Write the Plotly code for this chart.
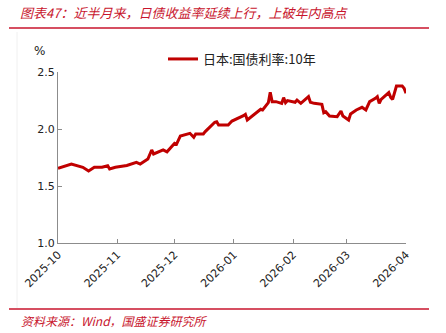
import plotly.graph_objects as go

dates = ["2025-10-01","2025-10-03","2025-10-08","2025-10-14","2025-10-17","2025-10-20","2025-10-24",
         "2025-10-27","2025-10-28","2025-10-31","2025-11-06","2025-11-11","2025-11-13","2025-11-17",
         "2025-11-19","2025-11-20","2025-11-25","2025-11-27","2025-12-01","2025-12-02","2025-12-04",
         "2025-12-09","2025-12-11","2025-12-12","2025-12-16","2025-12-17","2025-12-22","2025-12-23",
         "2025-12-24","2025-12-29","2025-12-31","2026-01-06","2026-01-07","2026-01-08","2026-01-12",
         "2026-01-15","2026-01-16","2026-01-19","2026-01-20","2026-01-21","2026-01-23","2026-01-26",
         "2026-01-27","2026-01-28","2026-01-29","2026-02-02","2026-02-03","2026-02-05","2026-02-09",
         "2026-02-10","2026-02-12","2026-02-16","2026-02-17","2026-02-18","2026-02-20","2026-02-24",
         "2026-02-26","2026-02-27","2026-03-02","2026-03-03","2026-03-06","2026-03-09","2026-03-11",
         "2026-03-13","2026-03-16","2026-03-17","2026-03-18","2026-03-19","2026-03-23","2026-03-24",
         "2026-03-25","2026-03-27","2026-03-30","2026-03-31","2026-04-01"]
jgb10y = [1.655,1.664,1.693,1.664,1.632,1.664,1.664,
          1.678,1.649,1.664,1.680,1.708,1.693,1.737,
          1.816,1.781,1.816,1.800,1.874,1.868,1.939,
          1.962,1.927,1.956,1.956,1.977,2.059,2.064,
          2.035,2.035,2.070,2.117,2.129,2.079,2.129,
          2.173,2.167,2.231,2.322,2.240,2.240,2.225,
          2.275,2.231,2.249,2.234,2.254,2.225,2.284,
          2.234,2.225,2.216,2.143,2.152,2.114,2.108,
          2.158,2.114,2.079,2.132,2.167,2.190,2.167,
          2.240,2.269,2.284,2.225,2.260,2.319,2.278,
          2.260,2.377,2.377,2.357,2.313]

series_name = "日本:国债利率:10年"
tick_vals = ["2025-10-01","2025-11-01","2025-12-01","2026-01-01","2026-02-01","2026-03-01","2026-04-01"]
tick_text = ["2025-10","2025-11","2025-12","2026-01","2026-02","2026-03","2026-04"]
y_ticks = [1.0, 1.5, 2.0, 2.5]

W, H = 446, 333
ML, MR, MT, MB = 58, 40, 72, 90
PW, PH = W - ML - MR, H - MT - MB

def px(x):
    return (x - ML) / PW

def py(y):
    return (H - MB - y) / PH

RED = "#C8152D"
LINE = "#C00000"
AX = "#8C8C8C"

fig = go.Figure()
fig.add_trace(go.Scatter(x=dates, y=jgb10y, mode="lines", name=series_name,
                         line=dict(color=LINE, width=3), showlegend=True))

fig.update_layout(
    width=W, height=H,
    margin=dict(l=ML, r=MR, t=MT, b=MB),
    paper_bgcolor="white", plot_bgcolor="white",
    font=dict(family="DejaVu Sans", size=11, color="#222222"),
    showlegend=True,
    legend=dict(x=px(163), y=py(44), xanchor="left", yanchor="top",
                orientation="h", bgcolor="rgba(0,0,0,0)", itemwidth=30,
                font=dict(family="Noto Sans CJK SC", size=13, color="#222222")),
    xaxis=dict(type="date", range=["2025-10-01", "2026-04-01"],
               tickvals=tick_vals, ticktext=tick_text, tickangle=-45,
               ticks="inside", ticklen=4, tickcolor=AX,
               showline=True, linecolor=AX, linewidth=1,
               showgrid=False, zeroline=False,
               tickfont=dict(family="DejaVu Sans", size=11, color="#222222")),
    yaxis=dict(range=[1.0, 2.5], tickvals=y_ticks, tickformat=".1f",
               ticks="inside", ticklen=4, tickcolor=AX,
               showline=True, linecolor=AX, linewidth=1,
               showgrid=False, zeroline=False,
               tickfont=dict(family="DejaVu Sans", size=11, color="#222222")),
    annotations=[
        dict(text="<i>图表47：近半月来，日债收益率延续上行，上破年内高点</i>",
             xref="paper", yref="paper", x=px(18), y=py(12),
             xanchor="left", yanchor="middle", showarrow=False,
             font=dict(family="Noto Sans CJK SC", size=13, color=RED)),
        dict(text="%", xref="paper", yref="paper", x=px(39), y=py(51),
             xanchor="center", yanchor="middle", showarrow=False,
             font=dict(family="DejaVu Sans", size=12, color="#222222")),
        dict(text="<i>资料来源：Wind，国盛证券研究所</i>",
             xref="paper", yref="paper", x=px(19), y=py(320),
             xanchor="left", yanchor="middle", showarrow=False,
             font=dict(family="Noto Sans CJK SC", size=12, color=RED)),
    ],
    shapes=[
        dict(type="line", xref="paper", yref="paper", x0=px(9), x1=px(429),
             y0=py(28), y1=py(28), line=dict(color=RED, width=1.5)),
        dict(type="line", xref="paper", yref="paper", x0=px(9), x1=px(429),
             y0=py(309), y1=py(309), line=dict(color=RED, width=1.5)),
        dict(type="line", xref="paper", yref="paper", x0=px(17), x1=px(17),
             y0=py(32), y1=py(308), line=dict(color="#F0F0F0", width=1)),
    ],
)

fig.write_html("out.html")
